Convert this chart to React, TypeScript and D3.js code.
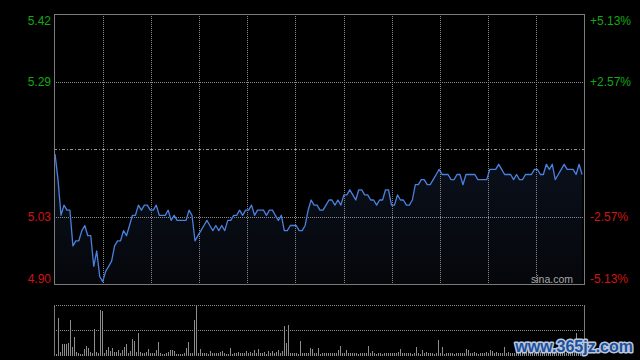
import React, { useEffect, useRef } from 'react';
import * as d3 from 'd3';

// intraday session, minutes (HK: 9:30-12:00, 13:00-16:00)
const SESSION_MINUTES = 330;
const GRID_MINUTES = [30, 60, 90, 120, 150, 180, 210, 240, 270, 300];

const PREV_CLOSE = 5.16;
const MAX_PCT = 0.0513;
const LEVELS = [2, 1, -1, -2];
const PRICE_LABELS = ['5.42', '5.29', '5.03', '4.90'];
const PCT_LABELS = ['+5.13%', '+2.57%', '-2.57%', '-5.13%'];

// price, roughly every 1.8 minutes
const PRICES = [
  5.15, 5.10, 5.03, 5.05, 5.04, 5.04, 4.97, 4.98, 4.98, 5.00,
  5.01, 4.99, 4.99, 4.93, 4.96, 4.91, 4.90, 4.92, 4.93, 4.94,
  4.97, 4.98, 4.98, 5.00, 4.99, 5.01, 5.03, 5.03, 5.05, 5.04,
  5.05, 5.05, 5.04, 5.04, 5.05, 5.03, 5.03, 5.03, 5.04, 5.02,
  5.03, 5.02, 5.02, 5.02, 5.02, 5.04, 5.03, 4.98, 4.99, 5.00,
  5.01, 5.02, 5.01, 5.00, 5.01, 5.00, 5.01, 5.00, 5.02, 5.02,
  5.03, 5.03, 5.04, 5.03, 5.04, 5.04, 5.05, 5.03, 5.04, 5.04,
  5.04, 5.03, 5.04, 5.04, 5.03, 5.02, 5.03, 5.00, 5.00, 5.01,
  5.01, 5.01, 5.00, 5.00, 5.01, 5.04, 5.06, 5.05, 5.05, 5.04,
  5.04, 5.05, 5.06, 5.06, 5.05, 5.06, 5.05, 5.07, 5.07, 5.08,
  5.07, 5.06, 5.08, 5.08, 5.07, 5.07, 5.06, 5.06, 5.05, 5.06,
  5.06, 5.08, 5.08, 5.05, 5.05, 5.07, 5.06, 5.06, 5.05, 5.05,
  5.06, 5.09, 5.09, 5.10, 5.10, 5.09, 5.09, 5.10, 5.11, 5.12,
  5.11, 5.11, 5.11, 5.10, 5.10, 5.11, 5.11, 5.09, 5.11, 5.11,
  5.11, 5.11, 5.10, 5.10, 5.10, 5.10, 5.12, 5.12, 5.12, 5.13,
  5.12, 5.11, 5.11, 5.11, 5.10, 5.11, 5.10, 5.10, 5.11, 5.11,
  5.11, 5.12, 5.12, 5.11, 5.11, 5.13, 5.12, 5.13, 5.10, 5.11,
  5.12, 5.13, 5.12, 5.12, 5.12, 5.11, 5.13, 5.11,
];

// volume bars (arbitrary units)
const VOLUMES = [
  157, 10, 367, 30, 110, 110, 110, 120, 350, 80,
  180, 30, 20, 10, 15, 60, 90, 70, 30, 20,
  260, 30, 20, 450, 440, 20, 50, 80, 40, 70,
  30, 30, 50, 20, 50, 80, 110, 20, 40, 160,
  140, 30, 220, 30, 20, 20, 30, 60, 20, 20,
  20, 50, 130, 20, 10, 10, 20, 30, 50, 50,
  40, 10, 10, 10, 10, 20, 70, 130, 20, 20,
  350, 500, 20, 60, 20, 20, 20, 10, 40, 20,
  20, 20, 20, 30, 40, 20, 10, 10, 70, 10,
  20, 20, 30, 20, 20, 20, 40, 20, 30, 20,
  50, 20, 60, 20, 20, 30, 10, 40, 20, 40,
  20, 30, 50, 20, 40, 290, 120, 300, 20, 20,
  20, 20, 10, 140, 20, 20, 20, 20, 70, 60,
  20, 20, 70, 10, 20, 20, 20, 20, 20, 20,
  20, 20, 50, 90, 20, 20, 50, 20, 20, 20,
  20, 20, 10, 20, 20, 20, 20, 90, 20, 40,
  20, 10, 20, 20, 10, 20, 20, 20, 20, 20,
  20, 20, 30, 60, 20, 20, 20, 20, 20, 10,
  20, 80, 20, 10, 50, 20, 30, 20, 20, 20,
  10, 20, 150, 20, 80, 10, 20, 20, 20, 20,
  10, 20, 20, 20, 20, 20, 60, 50, 20, 20,
  30, 20, 10, 20, 20, 20, 30, 20, 50, 40,
  20, 30, 20, 20, 20, 80, 20, 30, 20, 20,
  20, 30, 20, 40, 20, 30, 20, 50, 20, 30,
  20, 40, 20, 30, 20, 20, 50, 20, 30, 20,
  40, 20, 30, 20, 20, 40, 20, 30, 20, 40,
  100, 220, 30, 20, 40,
];

const FONT = '"Liberation Sans", Arial, sans-serif';

const App: React.FC = () => {
  const svgRef = useRef<SVGSVGElement>(null);

  useEffect(() => {
    if (!svgRef.current) return;
    const width = 640;
    const height = 360;
    const main = { left: 54, right: 584, top: 14, bottom: 284 };
    const vol = { top: 305, bottom: 355 };
    const px = (v: number) => Math.ceil(v - 0.001) + 0.5;

    const svg = d3.select(svgRef.current);
    svg.selectAll('*').remove();

    svg.append('rect').attr('width', width).attr('height', height).attr('fill', '#000');

    const t = d3.scaleLinear().domain([0, SESSION_MINUTES]).range([main.left, main.right]);
    const y = d3.scaleLinear()
      .domain([PREV_CLOSE * (1 - MAX_PCT), PREV_CLOSE * (1 + MAX_PCT)])
      .range([main.bottom, main.top]);
    const xp = d3.scaleLinear().domain([-0.35, PRICES.length - 0.35]).range([main.left, main.right]);
    const xv = d3.scaleLinear().domain([-0.5, VOLUMES.length]).range([main.left, main.right]);
    const yv = d3.scaleLinear().domain([0, d3.max(VOLUMES) as number]).range([vol.bottom, vol.top]);

    const levelY = (l: number) => y(PREV_CLOSE * (1 + (l * MAX_PCT) / 2));

    const defs = svg.append('defs');
    const grad = defs.append('linearGradient')
      .attr('id', 'areaFill')
      .attr('gradientUnits', 'userSpaceOnUse')
      .attr('x1', 0).attr('x2', 0)
      .attr('y1', main.top).attr('y2', main.bottom);
    grad.append('stop').attr('offset', '0%').attr('stop-color', '#101a2e');
    grad.append('stop').attr('offset', '100%').attr('stop-color', '#05070b');

    // area under price
    const area = d3.area<number>()
      .x((_, i) => xp(i))
      .y0(main.bottom)
      .y1(d => y(d));
    svg.append('path').datum(PRICES).attr('d', area).attr('fill', 'url(#areaFill)');

    const grid = svg.append('g').attr('shape-rendering', 'crispEdges');

    // vertical dotted grid
    GRID_MINUTES.forEach(m => {
      grid.append('line')
        .attr('x1', px(t(m))).attr('x2', px(t(m)))
        .attr('y1', main.top).attr('y2', main.bottom)
        .attr('stroke', '#8a8a8a').attr('stroke-dasharray', '1,1');
    });

    // horizontal grid
    [1, -1].forEach(l => {
      grid.append('line')
        .attr('x1', main.left).attr('x2', main.right)
        .attr('y1', px(levelY(l))).attr('y2', px(levelY(l)))
        .attr('stroke', '#8a8a8a').attr('stroke-dasharray', '1,1');
    });
    grid.append('line')
      .attr('x1', main.left).attr('x2', main.right)
      .attr('y1', px(y(PREV_CLOSE))).attr('y2', px(y(PREV_CLOSE)))
      .attr('stroke', '#9a9a9a').attr('stroke-dasharray', '3,2,1,2');

    // price line
    const line = d3.line<number>()
      .x((_, i) => xp(i))
      .y(d => y(d));
    svg.append('path').datum(PRICES)
      .attr('d', line)
      .attr('fill', 'none')
      .attr('stroke', '#4a80de')
      .attr('stroke-width', 1.3)
      .attr('stroke-linejoin', 'round');

    // frame
    svg.append('rect')
      .attr('x', main.left + 0.5).attr('y', main.top + 0.5)
      .attr('width', main.right - main.left).attr('height', main.bottom - main.top)
      .attr('fill', 'none').attr('stroke', '#7a7a7a')
      .attr('shape-rendering', 'crispEdges');

    // axis labels
    LEVELS.forEach((l, i) => {
      const ly = levelY(l) + (l === 2 ? 6 : l === -2 ? -6 : 0);
      const color = l > 0 ? '#13a813' : '#d01414';
      svg.append('text')
        .attr('x', 51).attr('y', ly + 4.5)
        .attr('text-anchor', 'end')
        .attr('font-family', FONT).attr('font-size', 12)
        .attr('fill', color)
        .text(PRICE_LABELS[i]);
      svg.append('text')
        .attr('x', 590).attr('y', ly + 4.5)
        .attr('font-family', FONT).attr('font-size', 12)
        .attr('fill', color)
        .text(PCT_LABELS[i]);
    });

    svg.append('text')
      .attr('x', 573).attr('y', 283)
      .attr('text-anchor', 'end')
      .attr('font-family', FONT).attr('font-size', 10.5)
      .attr('fill', '#a8a8a8')
      .text('sina.com');

    // volume panel
    const vg = svg.append('g').attr('shape-rendering', 'crispEdges');
    [vol.top, (vol.top + vol.bottom) / 2, vol.bottom].forEach(v => {
      vg.append('line')
        .attr('x1', main.left).attr('x2', main.right)
        .attr('y1', v + 0.5).attr('y2', v + 0.5)
        .attr('stroke', '#8a8a8a').attr('stroke-dasharray', '1,1');
    });
    vg.selectAll('rect.bar')
      .data(VOLUMES)
      .enter().append('rect')
      .attr('class', 'bar')
      .attr('x', (_, i) => Math.floor(xv(i)))
      .attr('width', 1)
      .attr('y', d => yv(d))
      .attr('height', d => vol.bottom + 1 - yv(d))
      .attr('fill', '#8c8c8c');
    [main.left, main.right].forEach(x => {
      vg.append('line')
        .attr('x1', x + 0.5).attr('x2', x + 0.5)
        .attr('y1', vol.top).attr('y2', vol.bottom + 1)
        .attr('stroke', '#7a7a7a');
    });

    // site watermark
    svg.append('text')
      .attr('x', 633).attr('y', 352)
      .attr('text-anchor', 'end')
      .attr('font-family', FONT).attr('font-size', 16).attr('font-weight', 'bold')
      .attr('fill', '#1e4f9c')
      .attr('stroke', '#b9c8de').attr('stroke-width', 3)
      .attr('paint-order', 'stroke')
      .attr('stroke-linejoin', 'round')
      .text('www.365jz.com');
  }, []);

  return (
    <svg
      ref={svgRef}
      width={640}
      height={360}
      style={{ position: 'absolute', left: 0, top: 0, display: 'block' }}
    />
  );
};

export default App;
